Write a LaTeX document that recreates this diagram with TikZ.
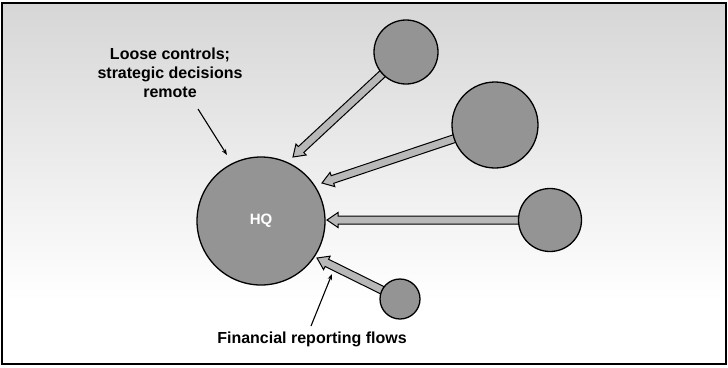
\documentclass[tikz,border=0pt]{standalone}
\usepackage{fontspec}
\setmainfont{Liberation Sans}
\usetikzlibrary{calc,arrows.meta}

\tikzset{
  hqbody/.style={circle, draw=black, line width=1.3pt, fill=black!42,
    inner sep=0pt, minimum size=128pt, text=white,
    font=\fontsize{15}{15}\selectfont\bfseries},
  unit/.style={circle, draw=black, line width=1.3pt, fill=black!42,
    inner sep=0pt, minimum size=#1},
  flowband/.style={draw=black, line width=1pt, fill=black!28, line join=miter},
  caption/.style={inner sep=0pt, align=center,
    font=\fontsize{16}{19}\selectfont\bfseries},
  pointer/.style={draw=black, line width=1.1pt,
    -{Stealth[length=6pt,width=4.5pt]}}
}

% A broad reporting arrow from the centre of a unit (#1) to a tip point (#2)
\newcommand\flowarrow[2]{%
  \coordinate (fa-hb) at ($(#2)!11pt!(#1)$);
  \draw[flowband] (#2)
    -- ($(fa-hb)!7.5pt!90:(#2)$)
    -- ($(fa-hb)!4pt!90:(#2)$)
    -- ($(#1)!4pt!90:(#2)$)
    -- ($(#1)!4pt!-90:(#2)$)
    -- ($(fa-hb)!4pt!-90:(#2)$)
    -- ($(fa-hb)!7.5pt!-90:(#2)$)
    -- cycle;}

\begin{document}
\begin{tikzpicture}[x=1pt, y=-1pt]
\useasboundingbox (0,0) rectangle (728,367);

% shaded backdrop and frame
\shade[top color=black!16, middle color=black!11, bottom color=white]
  (2,3) rectangle (726,300);
\draw[line width=1.2pt] (2,3) rectangle (726,364);

% centres of the business units
\coordinate (cA) at (406,52);
\coordinate (cB) at (495,125);
\coordinate (cC) at (550,220);
\coordinate (cD) at (400,299);

% arrow tips just short of the HQ circle
\coordinate (tA) at (293,157);
\coordinate (tB) at (322,183);
\coordinate (tC) at (327,220);
\coordinate (tD) at (317,258);

% financial reporting flows
\flowarrow{cA}{tA}
\flowarrow{cB}{tB}
\flowarrow{cC}{tC}
\flowarrow{cD}{tD}

% headquarters and units
\node[hqbody] (hq) at (261,221) {HQ};
\node[unit=64pt] (unitA) at (cA) {};
\node[unit=86pt] (unitB) at (cB) {};
\node[unit=63pt] (unitC) at (cC) {};
\node[unit=40pt] (unitD) at (cD) {};

% labels and their pointers
\node[caption, anchor=north] (loose) at (170,47.5)
  {Loose controls;\\strategic decisions\\remote};
\coordinate (looseFrom) at (198,109);
\coordinate (looseTo) at (227,155);
\draw[pointer] (looseFrom) -- (looseTo);

\node[caption, anchor=base] (flows) at (312,343) {Financial reporting flows};
\coordinate (flowsFrom) at (311,326);
\coordinate (flowsTo) at (332,274);
\draw[pointer] (flowsFrom) -- (flowsTo);
\end{tikzpicture}
\end{document}
